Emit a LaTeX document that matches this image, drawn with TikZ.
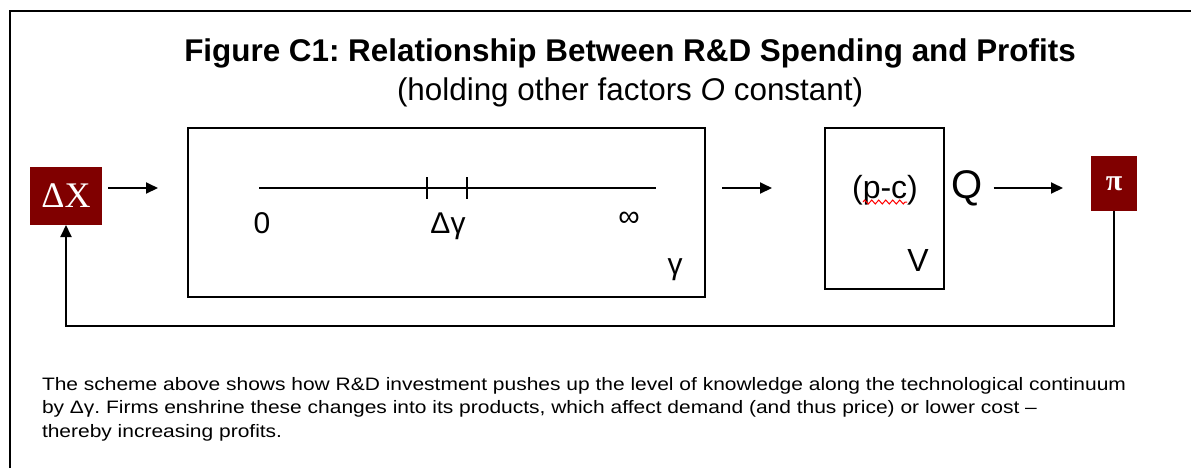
\documentclass[tikz,border=0pt]{standalone}
\usepackage{fontspec}
\setmainfont{Liberation Sans}
\newfontfamily\serifx{Liberation Serif}
\newfontfamily\capfont[FakeStretch=1.165]{Liberation Sans}
\usetikzlibrary{arrows.meta,decorations.pathmorphing}
\definecolor{maroon}{HTML}{800000}
\frenchspacing

\begin{document}
\begin{tikzpicture}[x=0.5pt,y=-0.5pt, every node/.style={inner sep=0pt, outer sep=0pt},
    arr/.style={-{Triangle[length=6pt,width=5.5pt]}, line width=1pt},
    box/.style={draw, rectangle, line width=1pt},
    redbox/.style={rectangle, fill=maroon, text=white},
    lbl/.style={font=\fontsize{15}{18}\selectfont}]
    \useasboundingbox (0,0) rectangle (1191,468);
    \draw[line width=1.4pt] (10,468) -- (10,11) -- (1191,11);
    \node[font=\bfseries\fontsize{15.7}{18}\selectfont] (title) at (630,53) {Figure C1: Relationship Between R\&D Spending and Profits};
    \node[font=\fontsize{15.7}{18}\selectfont] (sub) at (630,92) {(holding other factors \textit{O} constant)};
    \coordinate (row) at (0,188);
    \node[redbox, minimum width=36pt, minimum height=29pt, font=\serifx\fontsize{18}{20}\selectfont] (dx) at (66,196) {ΔX};
    \node[box, minimum width=258.5pt, minimum height=84.5pt] (cont) at (446.5,212.5) {};
    \node[box, minimum width=59.5pt, minimum height=80.5pt] (v) at (884.5,208.5) {};
    \node[redbox, minimum width=23pt, minimum height=27.5pt, font=\serifx\bfseries\fontsize{15}{17}\selectfont] (pi) at (1114,183.5) {π};
    \draw[line width=1pt] (259,188) coordinate (a0) -- (656,188) coordinate (a1);
    \foreach \t in {427,467} \draw[line width=1pt] (\t,177) -- (\t,199);
    \node[lbl] (zero) at (262,223) {0};
    \node[lbl] (dg) at (448,226) {Δγ};
    \node[lbl] (inf) at (629,219) {∞};
    \node[lbl] (gam) at (675,270) {γ};
    \node[font=\fontsize{16}{18}\selectfont] (pc) at (885,190) {(p-c)};
    \draw[red, line width=0.5pt, decorate, decoration={zigzag, segment length=3.5pt, amplitude=1pt}] (863,202) -- (907,202);
    \node[font=\fontsize{16}{18}\selectfont] (vv) at (918,260) {V};
    \node[font=\fontsize{20}{22}\selectfont] (q) at (967,188) {Q};
    \draw[arr, shorten <=3pt, shorten >=15pt] (dx.east |- row) -- (cont.west |- row);
    \draw[arr, shorten <=8.5pt, shorten >=26.5pt] (cont.east |- row) -- (v.west |- row);
    \draw[arr, shorten <=5.5pt, shorten >=14pt] (q.east |- row) -- (pi.west |- row);
    \draw[arr] (pi.south) -- ++(0,115) -| (dx.south);
    \node[anchor=west, align=left, font=\capfont\fontsize{9}{11.75}\selectfont] (cap) at (42,409) {The scheme above shows how R\&D investment pushes up the level of knowledge along the technological continuum\\by Δγ. Firms enshrine these changes into its products, which affect demand (and thus price) or lower cost –\\thereby increasing profits.};
\end{tikzpicture}
\end{document}
